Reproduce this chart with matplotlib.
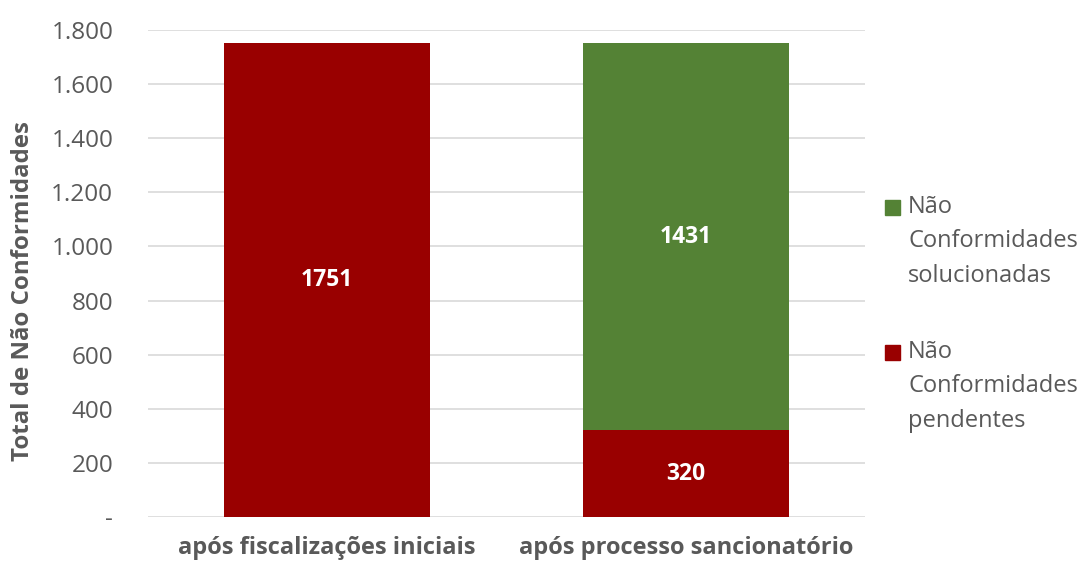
import matplotlib
matplotlib.use("Agg")
import matplotlib.pyplot as plt
from matplotlib.patches import Rectangle
from matplotlib.ticker import FuncFormatter

categories = ["após fiscalizações iniciais", "após processo sancionatório"]
pendentes = [1751, 320]
solucionadas = [0, 1431]
series_labels = [["Não", "Conformidades", "solucionadas"], ["Não", "Conformidades", "pendentes"]]
yticks = [0, 200, 400, 600, 800, 1000, 1200, 1400, 1600, 1800]

RED = "#990000"
GREEN = "#548235"
TXT = "#595959"

plt.rcParams['font.family'] = ['Open Sans', 'DejaVu Sans']

W, H = 1083, 566
fig = plt.figure(figsize=(W / 100, H / 100), dpi=100)
ax = fig.add_axes([148/W, 49/H, 717/W, 487/H])

x = list(range(len(categories)))
w = 0.575
ax.bar(x, pendentes, width=w, color=RED, zorder=3)
ax.bar(x, solucionadas, width=w, bottom=pendentes, color=GREEN, zorder=3)

for i in x:
    if pendentes[i] > 0:
        ax.text(i, pendentes[i] / 2, str(pendentes[i]), ha='center', va='center',
                color='white', fontsize=16.5, fontweight='bold', zorder=4)
    if solucionadas[i] > 0:
        ax.text(i, pendentes[i] + solucionadas[i] / 2, str(solucionadas[i]), ha='center',
                va='center', color='white', fontsize=16.5, fontweight='bold', zorder=4)

ax.set_xlim(-0.5, 1.5)
ax.set_ylim(0, 1800)
ax.set_yticks(yticks)

def fmt(v, pos):
    if v == 0:
        return "-"
    return f"{int(v):,}".replace(",", ".")

ax.yaxis.set_major_formatter(FuncFormatter(fmt))
ax.grid(axis='y', color='#d9d9d9', linewidth=1.2, zorder=0)
for s in ax.spines.values():
    s.set_visible(False)
ax.tick_params(axis='y', length=0, pad=25, labelsize=17.5, labelcolor=TXT)
ax.tick_params(axis='x', length=0, pad=14, labelsize=17, labelcolor=TXT)
ax.set_xticks(x)
ax.set_xticklabels(categories, fontweight='bold')
ax.set_ylabel("Total de Não Conformidades", fontsize=17.3, fontweight='bold', color=TXT)
ax.yaxis.set_label_coords((35 - 148) / 717, (517 - 291) / 487)

# legend drawn manually (Excel-style wrapped labels)
colors = [GREEN, RED]
starts = [207, 352]
for col, lines, y0 in zip(colors, series_labels, starts):
    fig.patches.append(Rectangle((885/W, 1 - (y0 + 8)/H), 15/W, 15/H,
                                 transform=fig.transFigure, color=col, figure=fig))
    for k, line in enumerate(lines):
        fig.text(908/W, 1 - (y0 + k * 34.5)/H, line, ha='left', va='center',
                 fontsize=17, color=TXT)

fig.savefig("out.png", dpi=100)
